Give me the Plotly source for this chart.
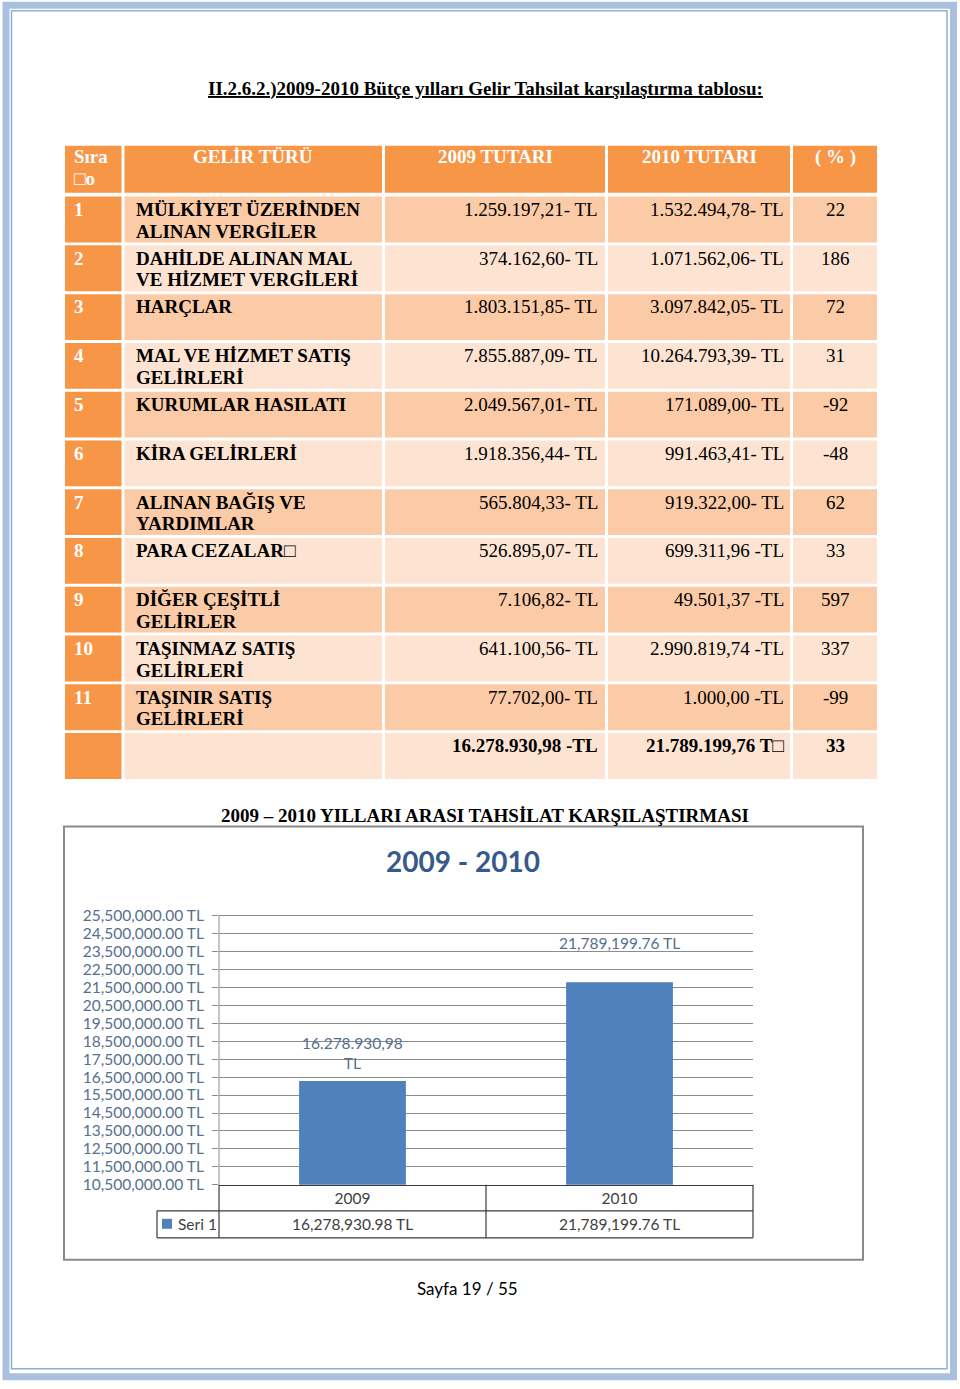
import plotly.graph_objects as go

W, H = 960, 1389

# ---------------- data ----------------
page_title = "II.2.6.2.)2009-2010 Bütçe yılları Gelir Tahsilat karşılaştırma tablosu:"
header = ["Sıra<br>□o", "GELİR TÜRÜ", "2009 TUTARI", "2010 TUTARI", "( % )"]
sira_no = ["1", "2", "3", "4", "5", "6", "7", "8", "9", "10", "11", ""]
gelir_turu = [
    "MÜLKİYET ÜZERİNDEN<br>ALINAN VERGİLER",
    "DAHİLDE ALINAN MAL<br>VE HİZMET VERGİLERİ",
    "HARÇLAR",
    "MAL VE HİZMET SATIŞ<br>GELİRLERİ",
    "KURUMLAR HASILATI",
    "KİRA GELİRLERİ",
    "ALINAN BAĞIŞ VE<br>YARDIMLAR",
    "PARA CEZALAR□",
    "DİĞER ÇEŞİTLİ<br>GELİRLER",
    "TAŞINMAZ SATIŞ<br>GELİRLERİ",
    "TAŞINIR SATIŞ<br>GELİRLERİ",
    "",
]
tutar_2009 = [
    "1.259.197,21- TL", "374.162,60- TL", "1.803.151,85- TL", "7.855.887,09- TL",
    "2.049.567,01- TL", "1.918.356,44- TL", "565.804,33- TL", "526.895,07- TL",
    "7.106,82- TL", "641.100,56- TL", "77.702,00- TL", "16.278.930,98 -TL",
]
tutar_2010 = [
    "1.532.494,78- TL", "1.071.562,06- TL", "3.097.842,05- TL", "10.264.793,39- TL",
    "171.089,00- TL", "991.463,41- TL", "919.322,00- TL", "699.311,96 -TL",
    "49.501,37 -TL", "2.990.819,74 -TL", "1.000,00 -TL", "21.789.199,76 T□",
]
yuzde = ["22", "186", "72", "31", "-92", "-48", "62", "33", "597", "337", "-99", "33"]

chart_caption = "2009 – 2010 YILLARI ARASI TAHSİLAT KARŞILAŞTIRMASI"
chart_title = "2009 - 2010"
years = ["2009", "2010"]
toplam_tahsilat = [16278930.98, 21789199.76]
bar_labels = ["16.278.930,98<br>TL", "21,789,199.76 TL"]
seri_adi = "Seri 1"
footer = "Sayfa 19 / 55"

# vertical calibration of page coordinates (measured from the rendered picture)
V_SCALE, V_OFF = 0.988, 8.8


def X(p):
    return p / W


def Y(p):
    return 1 - ((p - V_OFF) / V_SCALE) / H


SERIF = "Liberation Serif"
SANS = "Lato"
FS = 19
LINE_GAP = 21.7
ORANGE = "#F79646"
DARK_ROW = "#FBCAA6"
LIGHT_ROW = "#FDE4D2"
AX_TXT = "#56708D"
GRID = "#8C8C8C"

shapes = []
annotations = []

# ---------------- page border ----------------
shapes.append(dict(type="rect", xref="paper", yref="paper", x0=X(6), x1=X(953.5), y0=Y(6), y1=Y(1377),
                   line=dict(color="#A9C1DE", width=7), layer="below"))
shapes.append(dict(type="rect", xref="paper", yref="paper", x0=X(11.5), x1=X(947), y0=Y(11.5), y1=Y(1369),
                   line=dict(color="#8FAFD6", width=1.5), layer="below"))

# ---------------- page title ----------------
annotations.append(dict(xref="paper", yref="paper", x=X(485), y=Y(90), xanchor="center", yanchor="middle",
                        text="<b>" + page_title + "</b>", showarrow=False,
                        font=dict(family=SERIF, size=FS, color="black", lineposition="under")))

# ---------------- table ----------------
col_x0 = [65, 124.5, 385, 608, 793]
col_x1 = [121.5, 382, 605, 790, 877]
header_top, header_bot = 146.5, 193.5
row_top0, pitch, row_h = 197.3, 48.75, 45.8


def cell_rect(x0, x1, y0, y1, color):
    shapes.append(dict(type="rect", xref="paper", yref="paper", x0=X(x0), x1=X(x1), y0=Y(y0), y1=Y(y1),
                       fillcolor=color, line=dict(width=0), layer="below"))


def cell_text(txt, x, anchor, first_center, bold, color):
    for k, line in enumerate(txt.split("<br>")):
        annotations.append(dict(xref="paper", yref="paper", x=X(x), y=Y(first_center + k * LINE_GAP),
                                xanchor=anchor, yanchor="middle", showarrow=False,
                                text=("<b>" + line + "</b>") if bold else line,
                                font=dict(family=SERIF, size=FS, color=color)))


for c in range(5):
    cell_rect(col_x0[c], col_x1[c], header_top, header_bot, ORANGE)

hdr_x = [72, (col_x0[1] + col_x1[1]) / 2, (col_x0[2] + col_x1[2]) / 2, (col_x0[3] + col_x1[3]) / 2,
         (col_x0[4] + col_x1[4]) / 2]
hdr_anchor = ["left", "center", "center", "center", "center"]
for c, txt in enumerate(header):
    cell_text(txt, hdr_x[c], hdr_anchor[c], header_top + 11.2, True, "white")

cell_x = [72, 133.5, 599.5, 785.5, 835]
cell_anchor = ["left", "left", "right", "right", "center"]
columns = [sira_no, gelir_turu, tutar_2009, tutar_2010, yuzde]
n_rows = len(sira_no)
for r in range(n_rows):
    top = row_top0 + r * pitch
    bot = top + row_h
    is_total = (r == n_rows - 1)
    for c in range(5):
        fill = ORANGE if c == 0 else (DARK_ROW if r % 2 == 0 else LIGHT_ROW)
        cell_rect(col_x0[c], col_x1[c], top, bot, fill)
        txt = columns[c][r]
        if txt:
            cell_text(txt, cell_x[c], cell_anchor[c], top + 12.8, c in (0, 1) or is_total,
                      "white" if c == 0 else "black")

# ---------------- chart ----------------
annotations.append(dict(xref="paper", yref="paper", x=X(485), y=Y(816), xanchor="center", yanchor="middle",
                        text="<b>" + chart_caption + "</b>", showarrow=False,
                        font=dict(family=SERIF, size=FS, color="black")))

# chart frame
shapes.append(dict(type="rect", xref="paper", yref="paper", x0=X(64), x1=X(863), y0=Y(827), y1=Y(1260),
                   line=dict(color="#8A8A8A", width=2), layer="below"))

annotations.append(dict(xref="paper", yref="paper", x=X(463), y=Y(861), xanchor="center", yanchor="middle",
                        text="<b>" + chart_title + "</b>", showarrow=False,
                        font=dict(family=SANS, size=28, color="#375A8A")))

PX0, PX1, PY_TOP, PY_BOT = 219, 753, 916, 1185
Y_MIN, Y_TICK_MAX, Y_MAX = 10.5e6, 25.5e6, 25.6e6
px_per_unit = (PY_BOT - PY_TOP) / (Y_TICK_MAX - Y_MIN)
plot_top = PY_BOT - (Y_MAX - Y_MIN) * px_per_unit

fig = go.Figure()
fig.add_trace(go.Bar(x=years, y=toplam_tahsilat, name=seri_adi, marker=dict(color="#4F81BD", line=dict(width=0)),
                     width=0.4, showlegend=False, hoverinfo="x+y"))

# bar value labels (category index positions on the x axis)
label_shift = [7, 28]
for i, (v, lab, sh) in enumerate(zip(toplam_tahsilat, bar_labels, label_shift)):
    annotations.append(dict(xref="x", yref="y", x=i, y=v, yshift=sh, xanchor="center", yanchor="bottom",
                            text=lab, showarrow=False, font=dict(family=SANS, size=15.5, color=AX_TXT)))

# data table below the chart
mid = (PX0 + PX1) / 2
row1_bot, row2_bot = 1211, 1238
leg_x0 = 157
line_c = "#3A3A3A"
for (x0, y0, x1, y1) in [
    (leg_x0, row1_bot, PX1, row1_bot),
    (leg_x0, row2_bot, PX1, row2_bot),
    (leg_x0, row1_bot, leg_x0, row2_bot),
    (PX0, PY_BOT, PX0, row2_bot),
    (mid, PY_BOT, mid, row2_bot),
    (PX1, PY_BOT, PX1, row2_bot),
]:
    shapes.append(dict(type="line", xref="paper", yref="paper", x0=X(x0), x1=X(x1), y0=Y(y0), y1=Y(y1),
                       line=dict(color=line_c, width=1.2)))

for i, v in enumerate(toplam_tahsilat):
    annotations.append(dict(xref="x", yref="paper", x=i, y=Y((row1_bot + row2_bot) / 2),
                            xanchor="center", yanchor="middle", showarrow=False,
                            text=f"{v:,.2f} TL", font=dict(family=SANS, size=15.5, color="#404040")))

# legend key
shapes.append(dict(type="rect", xref="paper", yref="paper", x0=X(162), x1=X(172), y0=Y(1219), y1=Y(1229),
                   fillcolor="#4F81BD", line=dict(width=0)))
annotations.append(dict(xref="paper", yref="paper", x=X(175.5), y=Y(1224.5), xanchor="left", yanchor="middle",
                        showarrow=False, text=seri_adi, font=dict(family=SANS, size=15.5, color="#404040")))

# footer
annotations.append(dict(xref="paper", yref="paper", x=X(467), y=Y(1289), xanchor="center", yanchor="middle",
                        showarrow=False, text=footer, font=dict(family=SANS, size=17, color="black")))

# y axis line spanning the tick range only
shapes.append(dict(type="line", xref="x domain", yref="y", x0=0, x1=0, y0=Y_MIN, y1=Y_TICK_MAX,
                   line=dict(color=GRID, width=1)))

fig.update_layout(
    width=W, height=H, margin=dict(l=0, r=0, t=0, b=0),
    paper_bgcolor="white", plot_bgcolor="white",
    shapes=shapes, annotations=annotations,
    xaxis=dict(domain=[X(PX0), X(PX1)], type="category", range=[-0.5, 1.5], showline=True,
               linecolor=line_c, linewidth=1.2, ticks="", showgrid=False,
               tickfont=dict(family=SANS, size=15.5, color="#404040"), fixedrange=True),
    yaxis=dict(domain=[Y(PY_BOT), Y(plot_top)], range=[Y_MIN, Y_MAX], tick0=Y_MIN, dtick=1e6,
               tickformat=",.2f", ticksuffix=" TL", showgrid=True, gridcolor=GRID, gridwidth=1,
               showline=False, ticks="outside", ticklen=6, tickcolor=GRID,
               zeroline=False, ticklabelstandoff=5,
               tickfont=dict(family=SANS, size=15.5, color=AX_TXT), fixedrange=True),
    bargap=0.6,
)

fig.write_html(
    "out.html",
    config={"displayModeBar": False},
    post_script=(
        "document.documentElement.style.margin='0';document.body.style.margin='0';"
        "document.body.style.padding='0';document.body.style.overflow='hidden';"
        "var d=document.getElementById('{plot_id}');d.style.position='fixed';"
        "d.style.top='0';d.style.left='0';"
    ),
)
